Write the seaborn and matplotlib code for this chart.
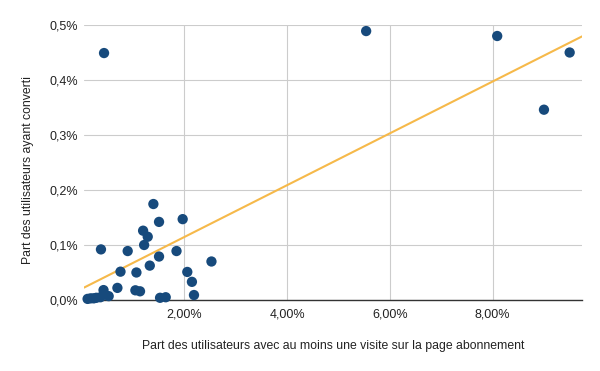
import seaborn as sns
import matplotlib.pyplot as plt
import numpy as np
import pandas as pd
from matplotlib.ticker import FuncFormatter

# part des utilisateurs avec une visite sur la page abonnement (%)
visite = [0.44, 5.54, 8.09, 9.50, 9.00,
          1.40, 1.51, 1.97, 1.20, 1.29, 1.22, 0.38, 0.90, 1.85, 1.51,
          2.53, 1.33, 0.76, 1.07, 2.06, 2.15, 0.70, 0.43, 1.05, 1.14,
          2.19, 0.53, 1.53, 1.64, 0.18, 0.29, 0.37, 0.12, 0.24]
# part des utilisateurs ayant converti (%)
conversion = [0.449, 0.489, 0.480, 0.450, 0.346,
              0.1745, 0.142, 0.147, 0.126, 0.115, 0.100, 0.092, 0.089, 0.089, 0.079,
              0.070, 0.0625, 0.0515, 0.050, 0.051, 0.033, 0.022, 0.018, 0.0176, 0.0158,
              0.009, 0.007, 0.004, 0.005, 0.003, 0.004, 0.005, 0.002, 0.003]

df = pd.DataFrame({"visite": visite, "conversion": conversion})

sns.set_style("white")
plt.rcParams['font.family'] = ['Liberation Sans', 'DejaVu Sans']

fig = plt.figure(figsize=(6, 3.71), dpi=100)
ax = fig.add_axes([0.14, 0.1914, 0.83, 0.7412])

x0, x1 = 0.05, 9.74
slope, intercept = np.polyfit(df["visite"], df["conversion"], 1)
xs = np.array([x0, x1])
ax.plot(xs, intercept + slope * xs, color="#F6B94A", lw=1.5, zorder=2)

sns.scatterplot(data=df, x="visite", y="conversion", ax=ax, color="#174A7C",
                s=55, edgecolor="none", zorder=3, clip_on=False)

ax.set_xlim(x0, x1)
ax.set_ylim(0, 0.5)
ax.set_xticks([2, 4, 6, 8])
ax.set_yticks([0, 0.1, 0.2, 0.3, 0.4, 0.5])
ax.xaxis.set_major_formatter(FuncFormatter(lambda v, p: f"{v:.2f}%".replace(".", ",")))
ax.yaxis.set_major_formatter(FuncFormatter(lambda v, p: f"{v:.1f}%".replace(".", ",")))
ax.grid(True, color="#cccccc", lw=0.8)
ax.set_axisbelow(True)
ax.tick_params(length=0, labelsize=9, colors="#222222")
ax.tick_params(axis="x", pad=6)
ax.tick_params(axis="y", pad=4)
for s in ["top", "right", "left"]:
    ax.spines[s].set_visible(False)
ax.spines["bottom"].set_color("#333333")
ax.spines["bottom"].set_linewidth(1)

ax.set_xlabel("Part des utilisateurs avec au moins une visite sur la page abonnement",
              fontsize=8.8, color="#222222", labelpad=14)
ax.set_ylabel("Part des utilisateurs ayant converti", fontsize=8.8, color="#222222")
ax.yaxis.set_label_coords(-0.10, 0.473)

fig.savefig("out.png", dpi=100)
